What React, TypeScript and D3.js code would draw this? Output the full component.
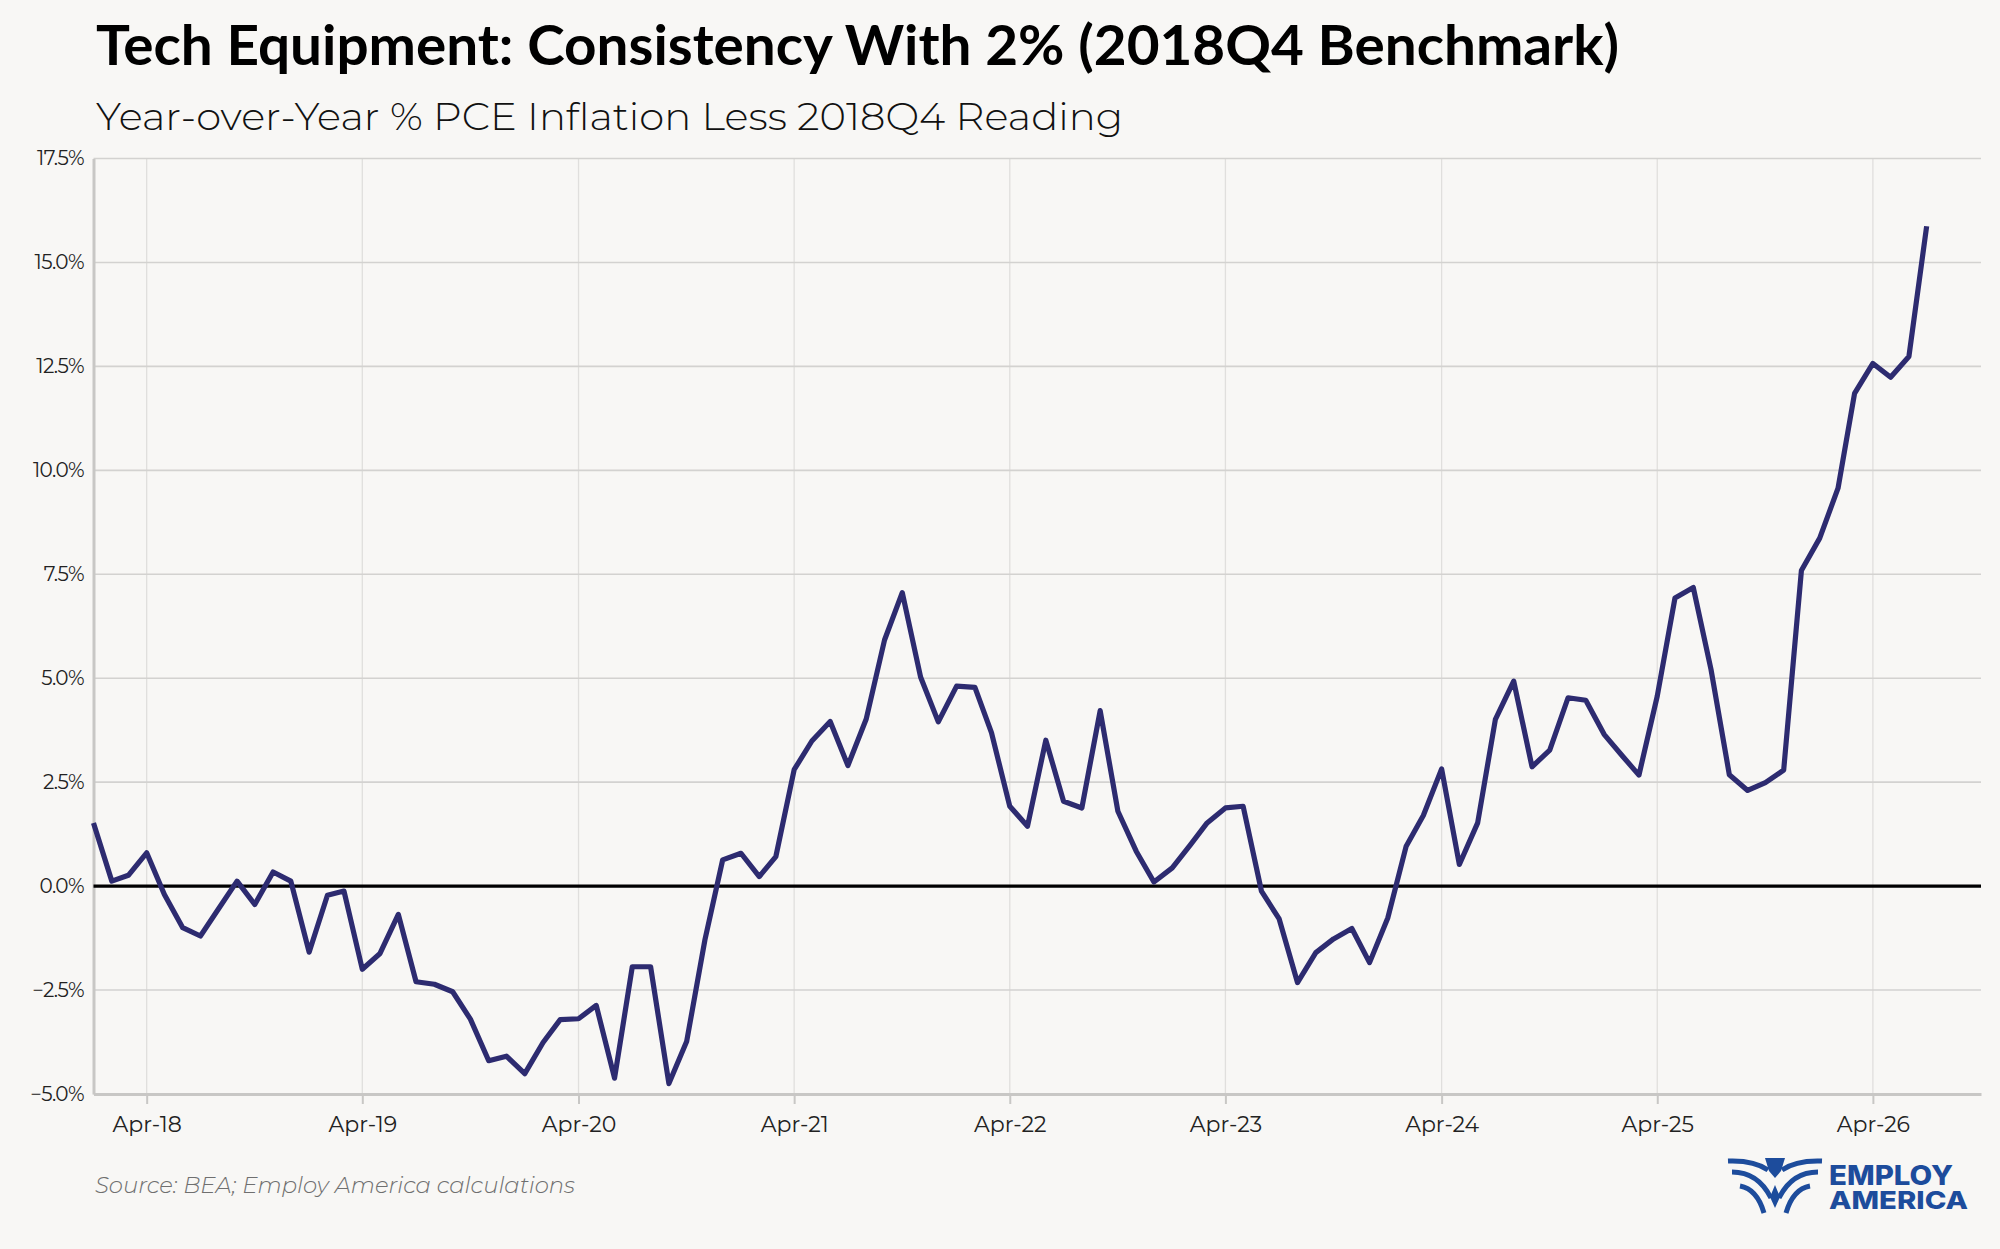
import React, { useEffect, useRef } from 'react';
import * as d3 from 'd3';

// monthly readings, % (YoY PCE tech equipment inflation less 2018Q4 reading)
const values2018 = [1.52, 0.12, 0.26, 0.8, -0.2, -1.0, -1.2, -0.54, 0.12, -0.44, 0.34, 0.12];
const values2019 = [-1.59, -0.22, -0.12, -2.0, -1.62, -0.68, -2.3, -2.36, -2.54, -3.2, -4.2, -4.09];
const values2020 = [-4.51, -3.76, -3.21, -3.19, -2.87, -4.62, -1.94, -1.94, -4.75, -3.74, -1.29, 0.63];
const values2021 = [0.79, 0.23, 0.71, 2.8, 3.49, 3.96, 2.9, 4.02, 5.92, 7.06, 5.03, 3.95];
const values2022 = [4.81, 4.78, 3.69, 1.92, 1.44, 3.51, 2.04, 1.88, 4.22, 1.8, 0.84, 0.1];
const values2023 = [0.44, 1.0, 1.52, 1.88, 1.92, -0.12, -0.79, -2.32, -1.6, -1.27, -1.02, -1.84];
const values2024 = [-0.76, 0.96, 1.7, 2.82, 0.52, 1.52, 4.01, 4.93, 2.87, 3.27, 4.53, 4.47];
const values2025 = [3.65, 3.13, 2.67, 4.57, 6.93, 7.18, 5.21, 2.68, 2.3, 2.49, 2.79, 7.59];
const values2026 = [8.37, 9.57, 11.85, 12.57, 12.24, 12.74, 15.87];

const firstYear = 2018;
const tickYears = [2018, 2019, 2020, 2021, 2022, 2023, 2024, 2025, 2026];
const yTicks = [-5, -2.5, 0, 2.5, 5, 7.5, 10, 12.5, 15, 17.5];

const title = 'Tech Equipment: Consistency With 2% (2018Q4 Benchmark)';
const subtitle = 'Year-over-Year % PCE Inflation Less 2018Q4 Reading';
const source = 'Source: BEA; Employ America calculations';

const MONT = "Montserrat, Inter, 'Noto Sans', sans-serif";

const App: React.FC = () => {
  const svgRef = useRef<SVGSVGElement>(null);

  useEffect(() => {
    const W = 2000;
    const H = 1249;
    const margin = { top: 158.5, right: 19, bottom: 155, left: 93.5 };

    const values = [
      ...values2018, ...values2019, ...values2020, ...values2021, ...values2022,
      ...values2023, ...values2024, ...values2025, ...values2026,
    ];
    const data = values.map((v, i) => ({ date: new Date(firstYear, i, 1), v }));

    const svg = d3.select(svgRef.current).attr('width', W).attr('height', H);
    svg.selectAll('*').remove();

    svg.append('rect').attr('width', W).attr('height', H).attr('fill', '#f8f7f5');

    const x = d3
      .scaleTime()
      .domain([new Date(2018, 0, 1), new Date(2026, 9, 1)])
      .range([margin.left, W - margin.right]);
    const y = d3.scaleLinear().domain([-5, 17.5]).range([H - margin.bottom, margin.top]);

    const tickDates = tickYears.map((yr) => new Date(yr, 3, 1));

    // grid
    svg
      .append('g')
      .selectAll('line')
      .data(tickDates)
      .join('line')
      .attr('x1', (d) => x(d))
      .attr('x2', (d) => x(d))
      .attr('y1', y(-5))
      .attr('y2', y(17.5))
      .attr('stroke', '#e0dfdd')
      .attr('stroke-width', 1.3);

    svg
      .append('g')
      .selectAll('line')
      .data(yTicks)
      .join('line')
      .attr('x1', margin.left)
      .attr('x2', W - margin.right)
      .attr('y1', (d) => y(d))
      .attr('y2', (d) => y(d))
      .attr('stroke', '#d3d2d0')
      .attr('stroke-width', 1.6);

    // axes
    const xAxis = svg
      .append('g')
      .attr('transform', `translate(0,${y(-5)})`)
      .call(
        d3
          .axisBottom(x)
          .tickValues(tickDates)
          .tickFormat((d) => d3.timeFormat('%b-%y')(d as Date))
          .tickSize(10)
          .tickSizeOuter(0)
          .tickPadding(12)
      );
    xAxis.select('.domain').attr('stroke', '#c8c7c5').attr('stroke-width', 3);
    xAxis.selectAll('.tick line').attr('stroke', '#c8c7c5').attr('stroke-width', 2);
    xAxis
      .selectAll('.tick text')
      .attr('font-family', MONT)
      .attr('font-size', 22)
      .attr('font-weight', 400)
      .attr('fill', '#222');

    const yAxis = svg
      .append('g')
      .attr('transform', `translate(${margin.left},0)`)
      .call(
        d3
          .axisLeft(y)
          .tickValues(yTicks)
          .tickFormat((d) => `${d3.format('.1f')(d as number)}%`)
          .tickSize(0)
          .tickSizeOuter(0)
          .tickPadding(9.5)
      );
    yAxis.select('.domain').attr('stroke', '#c8c7c5').attr('stroke-width', 3);
    yAxis
      .selectAll('.tick text')
      .attr('font-family', MONT)
      .attr('font-size', 20)
      .attr('font-weight', 400)
      .attr('letter-spacing', -0.6)
      .attr('fill', '#222');

    // zero line
    svg
      .append('line')
      .attr('x1', margin.left)
      .attr('x2', W - margin.right)
      .attr('y1', y(0))
      .attr('y2', y(0))
      .attr('stroke', '#000')
      .attr('stroke-width', 3.2);

    const line = d3
      .line<{ date: Date; v: number }>()
      .x((d) => x(d.date))
      .y((d) => y(d.v));

    svg
      .append('path')
      .datum(data)
      .attr('fill', 'none')
      .attr('stroke', '#2d2b70')
      .attr('stroke-width', 5.2)
      .attr('stroke-linejoin', 'round')
      .attr('d', line);

    // titles
    svg
      .append('text')
      .attr('x', 96)
      .attr('y', 65)
      .attr('font-family', "Lato, 'Open Sans', sans-serif")
      .attr('font-weight', 700)
      .attr('font-size', 56)
      .attr('fill', '#000')
      .attr('textLength', 1523)
      .attr('lengthAdjust', 'spacingAndGlyphs')
      .text(title);

    svg
      .append('text')
      .attr('x', 96)
      .attr('y', 130)
      .attr('font-family', MONT)
      .attr('font-weight', 300)
      .attr('font-size', 38)
      .attr('fill', '#111')
      .attr('textLength', 1027)
      .attr('lengthAdjust', 'spacingAndGlyphs')
      .text(subtitle);

    svg
      .append('text')
      .attr('x', 95)
      .attr('y', 1193)
      .attr('font-family', MONT)
      .attr('font-style', 'italic')
      .attr('font-weight', 300)
      .attr('font-size', 22)
      .attr('fill', '#6f6f6f')
      .attr('textLength', 480)
      .attr('lengthAdjust', 'spacingAndGlyphs')
      .text(source);

    // logo
    const blue = '#1d4c9c';
    const logo = svg.append('g').attr('transform', 'translate(1728,1158)');
    const wing = [
      'M0,3 Q26,2 40,12',
      'M4,14 Q30,14 43,40',
      'M12,28 Q29,31 36,55',
    ];
    wing.forEach((p) => {
      logo.append('path').attr('d', p).attr('fill', 'none').attr('stroke', blue).attr('stroke-width', 5);
      logo
        .append('path')
        .attr('d', p)
        .attr('transform', 'translate(94,0) scale(-1,1)')
        .attr('fill', 'none')
        .attr('stroke', blue)
        .attr('stroke-width', 5);
    });
    logo.append('path').attr('d', 'M37,0 L57,0 L53,13 L47,20 L41,13 Z').attr('fill', blue);
    logo.append('path').attr('d', 'M47,27 L52,39 L47,50 L42,39 Z').attr('fill', blue);

    const logoText = logo
      .append('text')
      .attr('font-family', "Inter, 'Open Sans', sans-serif")
      .attr('font-weight', 800)
      .attr('fill', blue);
    logoText
      .append('tspan')
      .attr('x', 101)
      .attr('y', 27)
      .attr('font-size', 27)
      .attr('textLength', 124)
      .attr('lengthAdjust', 'spacingAndGlyphs')
      .text('EMPLOY');
    logoText
      .append('tspan')
      .attr('x', 101)
      .attr('y', 51)
      .attr('font-size', 25)
      .attr('textLength', 139)
      .attr('lengthAdjust', 'spacingAndGlyphs')
      .text('AMERICA');
  }, []);

  return (
    <div style={{ position: 'absolute', left: 0, top: 0 }}>
      <svg ref={svgRef} style={{ display: 'block' }} />
    </div>
  );
};

export default App;
